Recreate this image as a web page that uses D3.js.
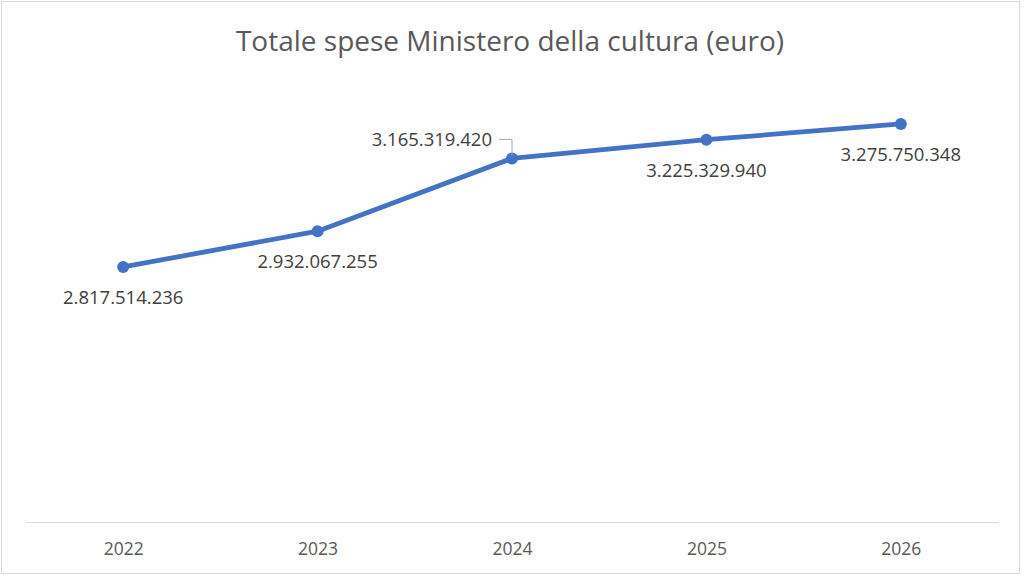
<!DOCTYPE html>
<html>
<head>
<meta charset="utf-8">
<script src="https://cdn.jsdelivr.net/npm/d3@7"></script>
<style>
  body { margin: 0; background: #fff; }
  svg { display: block; }
  text { font-family: "Open Sans", "Noto Sans", sans-serif; }
</style>
</head>
<body>
<div id="chart"></div>
<script>
var years = ['2022', '2023', '2024', '2025', '2026'];
var spese = [2817514236, 2932067255, 3165319420, 3225329940, 3275750348];
var labelSide = ['below', 'below', 'left', 'below', 'below'];
var title = 'Totale spese Ministero della cultura (euro)';

var width = 1024, height = 576;

var it = d3.formatLocale({ decimal: ',', thousands: '.', grouping: [3], currency: ['€', ''] });
var fmt = it.format(',d');

var data = years.map(function (y, i) {
  return { year: y, value: spese[i], side: labelSide[i] };
});

var svg = d3.select('#chart')
  .append('svg')
  .attr('width', width)
  .attr('height', height);

// chart area border
svg.append('rect')
  .attr('x', 1.5).attr('y', 1.5)
  .attr('width', 1018).attr('height', 572)
  .attr('fill', '#fff')
  .attr('stroke', '#d9d9d9');

svg.append('text')
  .attr('x', 510).attr('y', 51)
  .attr('text-anchor', 'middle')
  .attr('fill', '#595959')
  .attr('font-size', 28)
  .text(title);

var x = d3.scalePoint()
  .domain(years)
  .range([26, 998])
  .padding(0.5);

var y = d3.scaleLinear()
  .domain([2000000000, 3500000000])
  .range([522, 54]);

var xAxis = svg.append('g')
  .attr('transform', 'translate(0,522)')
  .call(d3.axisBottom(x).tickSize(0).tickPadding(21));

xAxis.select('.domain').attr('stroke', '#d9d9d9').attr('stroke-width', 1.2);
xAxis.selectAll('text')
  .attr('fill', '#595959')
  .attr('font-size', 17.5)
  .style('font-family', '"Open Sans", sans-serif');

var line = d3.line()
  .x(function (d) { return x(d.year); })
  .y(function (d) { return y(d.value); });

svg.append('path')
  .datum(data)
  .attr('fill', 'none')
  .attr('stroke', '#4472c4')
  .attr('stroke-width', 4.8)
  .attr('stroke-linejoin', 'round')
  .attr('d', line);

svg.selectAll('circle')
  .data(data)
  .enter()
  .append('circle')
  .attr('cx', function (d) { return x(d.year); })
  .attr('cy', function (d) { return y(d.value); })
  .attr('r', 6)
  .attr('fill', '#4472c4');

// leader line for the label placed on the left
data.filter(function (d) { return d.side === 'left'; }).forEach(function (d) {
  var px = x(d.year), py = y(d.value);
  svg.append('path')
    .attr('d', 'M' + (px - 13) + ',' + (py - 19) + 'H' + px + 'V' + (py - 3))
    .attr('fill', 'none')
    .attr('stroke', '#a6a6a6')
    .attr('stroke-width', 1);
});

svg.selectAll('.lbl')
  .data(data)
  .enter()
  .append('text')
  .attr('class', 'lbl')
  .attr('x', function (d) { return d.side === 'left' ? x(d.year) - 20 : x(d.year); })
  .attr('y', function (d) { return d.side === 'left' ? y(d.value) - 12 : y(d.value) + 37; })
  .attr('text-anchor', function (d) { return d.side === 'left' ? 'end' : 'middle'; })
  .attr('fill', '#404040')
  .attr('font-size', 18.5)
  .text(function (d) { return fmt(d.value); });
</script>
</body>
</html>
